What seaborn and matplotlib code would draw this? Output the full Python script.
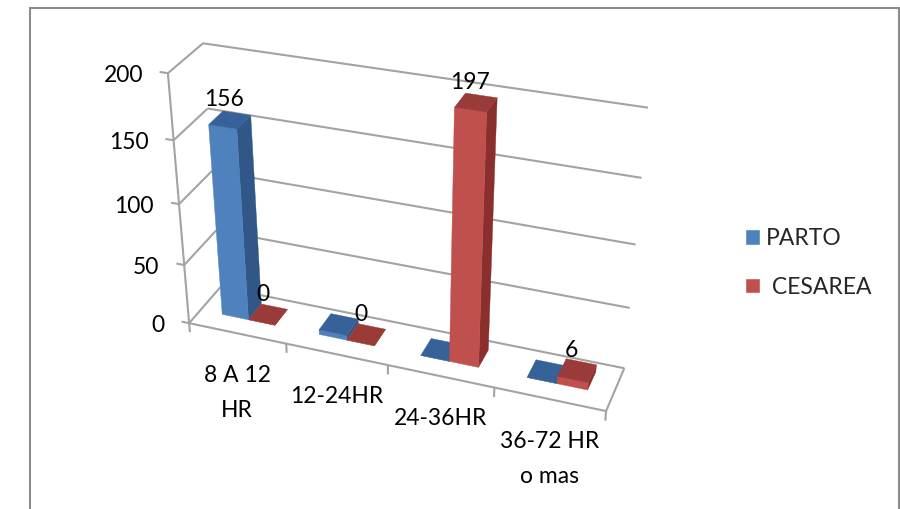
import numpy as np
import pandas as pd
import seaborn as sns
import matplotlib
matplotlib.use("Agg")
import matplotlib.pyplot as plt
from matplotlib.lines import Line2D
from matplotlib.patches import Patch
from mpl_toolkits.mplot3d import proj3d
from mpl_toolkits.mplot3d.art3d import Poly3DCollection

categories = ["8 A 12\nHR", "12-24HR", "24-36HR", "36-72 HR\no mas"]
parto = [156, 4, 0, 0]
cesarea = [0, 0, 197, 6]
parto_labels = ["156", "", "", ""]
cesarea_labels = ["0", "0", "197", "6"]
z_ticks = [0, 50, 100, 150, 200]

W, H = 900, 509
sns.set_theme(style="white")
plt.rcParams["font.family"] = ["Lato", "DejaVu Sans"]
FS = 16.5
GRID = "#a3a3a3"
palette = sns.color_palette(["#4f81bd", "#c0504d"])
tops = ["#376299", "#9a3b39"]
sides = ["#305788", "#8a2f2d"]

df = pd.DataFrame({"cat": categories, "PARTO": parto, "CESAREA": cesarea})

fig = plt.figure(figsize=(W / 100, H / 100), dpi=100, facecolor="white")
# Square 3D axes as wide as the figure, so nothing is clipped
ax = fig.add_axes([0, (1 - W / H) / 2, 1, W / H], projection="3d")
ax.set_axis_off()
ax.computed_zorder = False
ax.patch.set_visible(False)
ax.apply_aspect()
ax._focal_length = np.inf

# Camera calibration: (category, depth, value) -> picture pixel, with a weight per point
world = np.array([
    (0, 0, 0), (0, 0, 50), (0, 0, 100), (0, 0, 150), (0, 0, 200),
    (0, 1, 0), (0, 1, 50), (0, 1, 100), (0, 1, 150), (0, 1, 200),
    (4, 1, 0), (4, 1, 50), (4, 1, 100), (4, 1, 150), (4, 1, 200),
    (4, 0, 0), (1, 0, 0), (3, 0, 0)], float)
pixels = np.array([
    (190, 322), (184, 264), (178, 203), (173, 140), (167, 73),
    (219, 290), (212, 237), (210, 174), (208, 108), (205, 42),
    (625, 366), (630, 307), (635, 243), (640, 178), (648, 109),
    (606, 412), (287, 343), (494, 387)], float)
weights = [3, 1, 1, 1, 2, 2, 1, 1, 1, 2, 3, 1, 1, 1, 2, 5, 2, 3]


def fit_camera():
    disp = np.column_stack([pixels[:, 0], H - pixels[:, 1]])
    view = ax.transData.inverted().transform(disp)
    rows, rhs = [], []
    for (x, y, z), (a, b), w in zip(world, view, weights):
        rows.append([w * c for c in (x, y, z, 1, 0, 0, 0, 0, -a * x, -a * y, -a * z)])
        rhs.append(w * a)
        rows.append([w * c for c in (0, 0, 0, 0, x, y, z, 1, -b * x, -b * y, -b * z)])
        rhs.append(w * b)
    p = np.linalg.lstsq(np.array(rows), np.array(rhs), rcond=None)[0]
    return np.array([
        [p[0], p[1], p[2], p[3]],
        [p[4], p[5], p[6], p[7]],
        [0.0, -0.01, 0.0, -0.01],
        [p[8], p[9], p[10], 1.0]])


M = fit_camera()
ax.get_proj = lambda: M
ax.M = M


def seg(a, b, color=GRID, lw=1.5, zorder=1):
    ax.plot(*zip(a, b), color=color, lw=lw, zorder=zorder, solid_capstyle="butt")


def label(text, point, dx, dy, ha="center", va="center", **kw):
    """Real 2D text at a projected data point, shifted by (dx, dy) pixels (dy downwards)."""
    vx, vy, _ = proj3d.proj_transform(*point, M)
    ax.annotate(text, xy=(vx, vy), xycoords="data", xytext=(dx, -dy),
                textcoords="offset pixels", ha=ha, va=va, fontsize=FS,
                color="black", zorder=20, annotation_clip=False, **kw)


# Walls, floor and ticks
n = len(categories)
for z in z_ticks:
    seg((0, 1, z), (n, 1, z))
    seg((0, 0, z), (0, 1, z))
    seg((0, 0, z), (-0.08, 0, z))
    label(str(z), (0, 0, z), -25, 2, ha="right")
seg((0, 0, 0), (0, 0, z_ticks[-1]))
seg((0, 0, 0), (n, 0, 0))
seg((n, 0, 0), (n, 1, 0))
for k in range(n + 1):
    seg((k, 0, 0), (k, 0, -8))

# Bars
BAR_L, BAR_W = 0.22, 0.275
D0, D1 = 0.37, 0.80


def bar(cat, s, value, zorder):
    x0 = cat + BAR_L + s * BAR_W
    x1 = x0 + BAR_W
    v = max(value, 0)
    faces = [
        ([(x1, D0, 0), (x1, D1, 0), (x1, D1, v), (x1, D0, v)], sides[s]),
        ([(x0, D0, 0), (x1, D0, 0), (x1, D0, v), (x0, D0, v)], palette[s]),
        ([(x0, D0, v), (x1, D0, v), (x1, D1, v), (x0, D1, v)], tops[s]),
    ]
    for i, (verts, col) in enumerate(faces):
        ax.add_collection3d(Poly3DCollection([verts], facecolors=[col], edgecolors=[col],
                                             linewidths=0.3, zorder=zorder + i * 0.1))
    return (x0 + x1) / 2


for c in range(n):
    for s, series in enumerate([df["PARTO"], df["CESAREA"]]):
        mid = bar(c, s, series[c], zorder=3 + c + s * 0.5)
        text = (parto_labels if s == 0 else cesarea_labels)[c]
        if text:
            label(text, (mid, (D0 + D1) / 2, series[c]), -5, -20)

# Category labels below the front edge
for c, name in enumerate(categories):
    label(name, (c + 0.5, 0, 0), 0, 32, va="top", linespacing=1.8)

# Legend
handles = [Patch(facecolor=palette[0], label="PARTO"), Patch(facecolor=palette[1], label=" CESAREA")]
fig.legend(handles=handles, loc="center left", bbox_to_anchor=(745 / W, 1 - 263 / H),
           frameon=False, fontsize=FS, handlelength=0.66, handleheight=0.66,
           handletextpad=0.25, labelspacing=1.2, borderpad=0, borderaxespad=0)

# Frame of the pasted picture (open at the bottom)
for xs, ys in [((30, 30), (509, 8)), ((30, 899), (8, 8)), ((899, 899), (8, 509))]:
    fig.add_artist(Line2D([x / W for x in xs], [1 - y / H for y in ys], color="#8c8c8c", lw=1.5))

fig.savefig("out.png", dpi=100, facecolor="white")
